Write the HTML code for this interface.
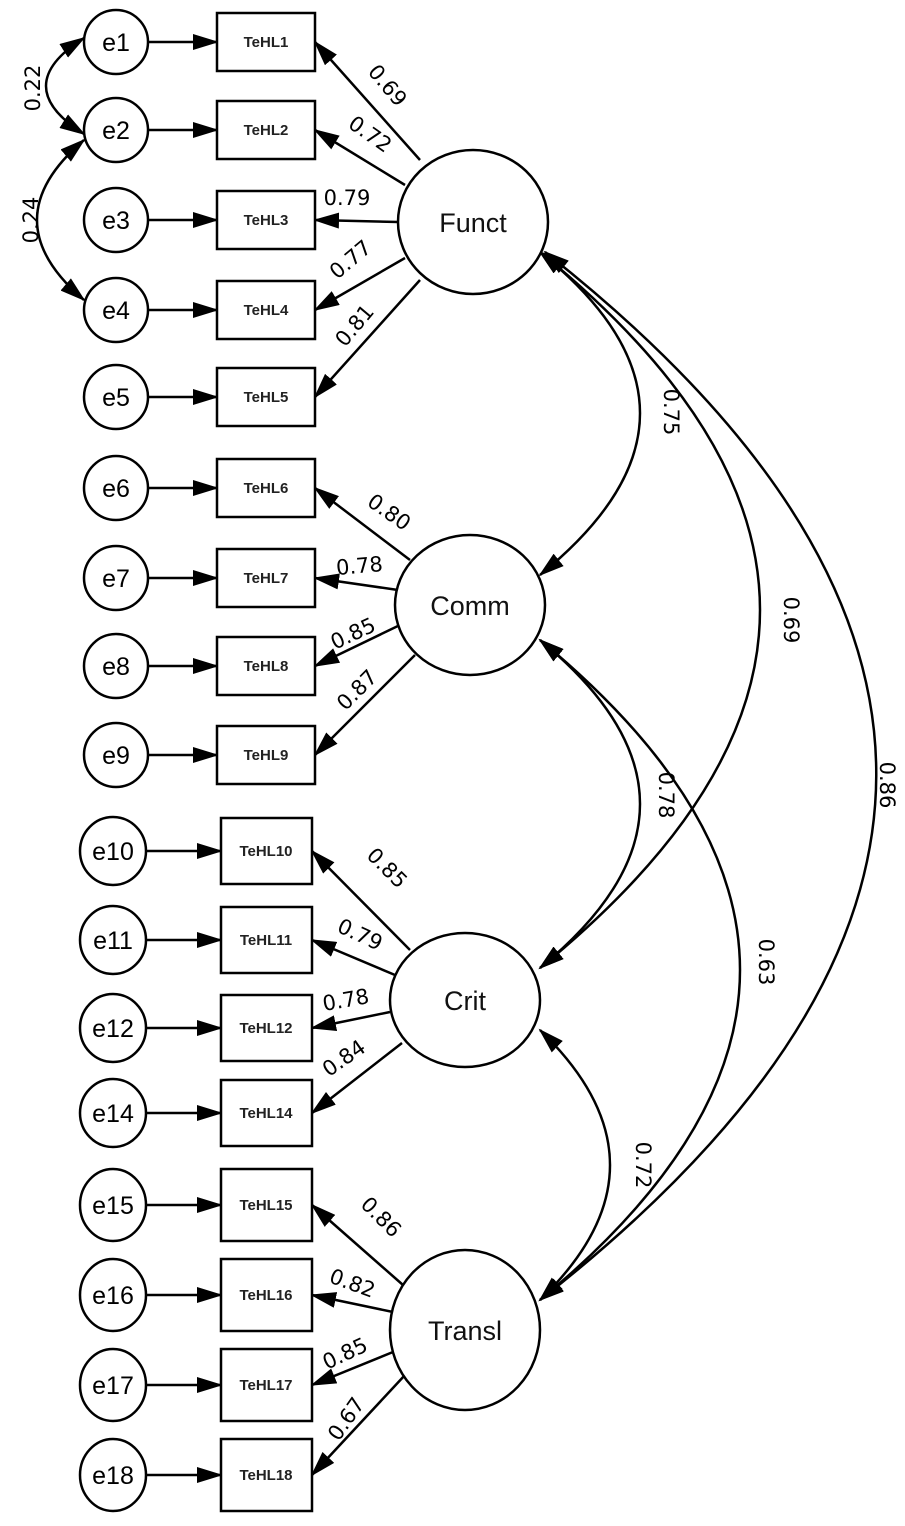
<!DOCTYPE html>
<html><head><meta charset="utf-8"><style>html,body{margin:0;padding:0;background:#fff}svg{display:block}</style></head>
<body>
<svg width="905" height="1526" viewBox="0 0 905 1526" xmlns="http://www.w3.org/2000/svg" font-family="Liberation Sans, DejaVu Sans, sans-serif">
<defs>
<marker id="a" markerWidth="26" markerHeight="16" refX="24" refY="8" orient="auto-start-reverse" markerUnits="userSpaceOnUse">
<path d="M0,0 L26,8 L0,16 z" fill="#000"/></marker>
</defs>
<g stroke="#000" stroke-width="2.5" fill="none">
<!-- e->box arrows -->
<g marker-end="url(#a)">
<line x1="148" y1="42" x2="217" y2="42"/><line x1="148" y1="130" x2="217" y2="130"/>
<line x1="148" y1="220" x2="217" y2="220"/><line x1="148" y1="310" x2="217" y2="310"/>
<line x1="148" y1="397" x2="217" y2="397"/><line x1="148" y1="488" x2="217" y2="488"/>
<line x1="148" y1="578" x2="217" y2="578"/><line x1="148" y1="666" x2="217" y2="666"/>
<line x1="148" y1="755" x2="217" y2="755"/>
<line x1="146" y1="851" x2="221" y2="851"/><line x1="146" y1="940" x2="221" y2="940"/>
<line x1="146" y1="1028" x2="221" y2="1028"/><line x1="146" y1="1113" x2="221" y2="1113"/>
<line x1="146" y1="1205" x2="221" y2="1205"/><line x1="146" y1="1295" x2="221" y2="1295"/>
<line x1="146" y1="1385" x2="221" y2="1385"/><line x1="146" y1="1475" x2="221" y2="1475"/>
<!-- loadings -->
<line x1="420" y1="160" x2="315" y2="42"/><line x1="405" y1="185" x2="315" y2="130"/>
<line x1="398" y1="222" x2="315" y2="220"/><line x1="405" y1="258" x2="315" y2="310"/>
<line x1="420" y1="280" x2="315" y2="397"/>
<line x1="410" y1="560" x2="315" y2="488"/><line x1="398" y1="590" x2="315" y2="578"/>
<line x1="400" y1="625" x2="315" y2="666"/><line x1="415" y1="655" x2="315" y2="755"/>
<line x1="410" y1="950" x2="312" y2="851"/><line x1="395" y1="975" x2="312" y2="940"/>
<line x1="390" y1="1012" x2="312" y2="1028"/><line x1="402" y1="1043" x2="312" y2="1113"/>
<line x1="403" y1="1285" x2="312" y2="1205"/><line x1="393" y1="1312" x2="312" y2="1295"/>
<line x1="393" y1="1352" x2="312" y2="1385"/><line x1="405" y1="1375" x2="312" y2="1475"/>
</g>
<!-- covariances -->
<g marker-start="url(#a)" marker-end="url(#a)">
<path d="M84,38 Q8,86 84,134"/>
<path d="M84,140 Q-10,220 84,300"/>
<path d="M540,252 Q740,413 540,575"/>
<path d="M540,252 Q980,610 540,968"/>
<path d="M545,252 Q1210,776 540,1300"/>
<path d="M540,640 Q740,804 540,968"/>
<path d="M540,640 Q940,970 540,1300"/>
<path d="M540,1030 Q680,1165 540,1300"/>
</g>
</g>
<!-- e circles -->
<g stroke="#000" stroke-width="2.5" fill="#fff">
<circle cx="116" cy="42" r="32"/><circle cx="116" cy="130" r="32"/><circle cx="116" cy="220" r="32"/>
<circle cx="116" cy="310" r="32"/><circle cx="116" cy="397" r="32"/><circle cx="116" cy="488" r="32"/>
<circle cx="116" cy="578" r="32"/><circle cx="116" cy="666" r="32"/><circle cx="116" cy="755" r="32"/>
<ellipse cx="113" cy="851" rx="33" ry="34"/><ellipse cx="113" cy="940" rx="33" ry="34"/>
<ellipse cx="113" cy="1028" rx="33" ry="34"/><ellipse cx="113" cy="1113" rx="33" ry="34"/>
<ellipse cx="113" cy="1205" rx="33" ry="36"/><ellipse cx="113" cy="1295" rx="33" ry="36"/>
<ellipse cx="113" cy="1385" rx="33" ry="36"/><ellipse cx="113" cy="1475" rx="33" ry="36"/>
<!-- boxes -->
<rect x="217" y="13" width="98" height="58"/><rect x="217" y="101" width="98" height="58"/>
<rect x="217" y="191" width="98" height="58"/><rect x="217" y="281" width="98" height="58"/>
<rect x="217" y="368" width="98" height="58"/><rect x="217" y="459" width="98" height="58"/>
<rect x="217" y="549" width="98" height="58"/><rect x="217" y="637" width="98" height="58"/>
<rect x="217" y="726" width="98" height="58"/>
<rect x="221" y="818" width="91" height="66"/><rect x="221" y="907" width="91" height="66"/>
<rect x="221" y="995" width="91" height="66"/><rect x="221" y="1080" width="91" height="66"/>
<rect x="221" y="1169" width="91" height="72"/><rect x="221" y="1259" width="91" height="72"/>
<rect x="221" y="1349" width="91" height="72"/><rect x="221" y="1439" width="91" height="72"/>
<!-- latents -->
<ellipse cx="473" cy="222" rx="75" ry="72"/>
<ellipse cx="470" cy="605" rx="75" ry="70"/>
<ellipse cx="465" cy="1000" rx="75" ry="67"/>
<ellipse cx="465" cy="1330" rx="75" ry="80"/>
</g>
<g font-size="25" text-anchor="middle" fill="#000">
<text x="116" y="51">e1</text><text x="116" y="139">e2</text><text x="116" y="229">e3</text>
<text x="116" y="319">e4</text><text x="116" y="406">e5</text><text x="116" y="497">e6</text>
<text x="116" y="587">e7</text><text x="116" y="675">e8</text><text x="116" y="764">e9</text>
<text x="113" y="860">e10</text><text x="113" y="949">e11</text><text x="113" y="1037">e12</text>
<text x="113" y="1122">e14</text><text x="113" y="1214">e15</text><text x="113" y="1304">e16</text>
<text x="113" y="1394">e17</text><text x="113" y="1484">e18</text>
</g>
<g font-size="15" font-weight="bold" text-anchor="middle" fill="#222">
<text x="266" y="47">TeHL1</text><text x="266" y="135">TeHL2</text><text x="266" y="225">TeHL3</text>
<text x="266" y="315">TeHL4</text><text x="266" y="402">TeHL5</text><text x="266" y="493">TeHL6</text>
<text x="266" y="583">TeHL7</text><text x="266" y="671">TeHL8</text><text x="266" y="760">TeHL9</text>
<text x="266" y="856">TeHL10</text><text x="266" y="945">TeHL11</text><text x="266" y="1033">TeHL12</text>
<text x="266" y="1118">TeHL14</text><text x="266" y="1210">TeHL15</text><text x="266" y="1300">TeHL16</text>
<text x="266" y="1390">TeHL17</text><text x="266" y="1480">TeHL18</text>
</g>
<g font-size="27" text-anchor="middle" fill="#111">
<text x="473" y="232">Funct</text><text x="470" y="615">Comm</text>
<text x="465" y="1010">Crit</text><text x="465" y="1340">Transl</text>
</g>
<g font-family="DejaVu Sans, Liberation Sans, sans-serif" font-size="21" text-anchor="middle" fill="#000">
<text transform="translate(382,90) rotate(50)">0.69</text>
<text transform="translate(366,140) rotate(35)">0.72</text>
<text transform="translate(347,205)">0.79</text>
<text transform="translate(355,265) rotate(-40)">0.77</text>
<text transform="translate(360,330) rotate(-50)">0.81</text>
<text transform="translate(385,518) rotate(35)">0.80</text>
<text transform="translate(360,573) rotate(-5)">0.78</text>
<text transform="translate(356,640) rotate(-25)">0.85</text>
<text transform="translate(362,695) rotate(-45)">0.87</text>
<text transform="translate(382,873) rotate(45)">0.85</text>
<text transform="translate(357,941) rotate(25)">0.79</text>
<text transform="translate(347,1007) rotate(-10)">0.78</text>
<text transform="translate(348,1064) rotate(-35)">0.84</text>
<text transform="translate(376,1222) rotate(45)">0.86</text>
<text transform="translate(350,1290) rotate(20)">0.82</text>
<text transform="translate(348,1360) rotate(-25)">0.85</text>
<text transform="translate(352,1423) rotate(-55)">0.67</text>
<text transform="translate(40,88) rotate(-90)">0.22</text>
<text transform="translate(38,220) rotate(-90)">0.24</text>
<text transform="translate(664,412) rotate(90)">0.75</text>
<text transform="translate(784,620) rotate(90)">0.69</text>
<text transform="translate(880,785) rotate(90)">0.86</text>
<text transform="translate(659,795) rotate(90)">0.78</text>
<text transform="translate(759,962) rotate(90)">0.63</text>
<text transform="translate(636,1165) rotate(90)">0.72</text>
</g>
</svg>
</body></html>
